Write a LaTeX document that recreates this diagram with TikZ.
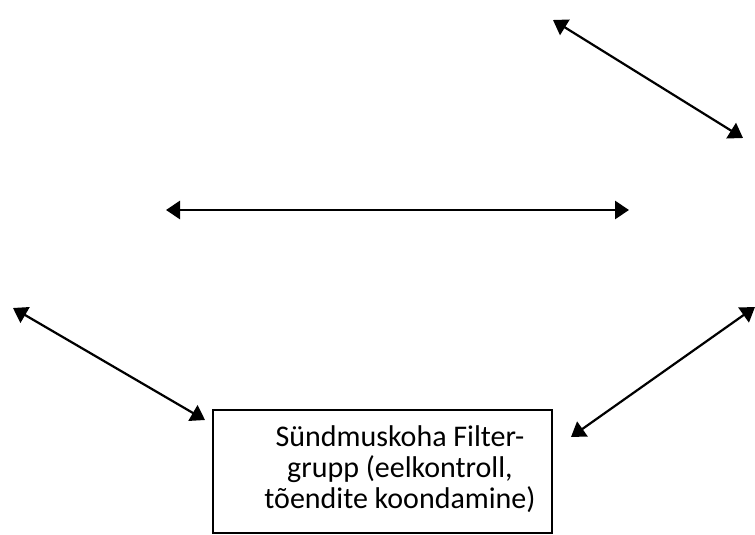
\documentclass[tikz,border=0pt]{standalone}
\usepackage{fontspec}
\setmainfont{Carlito}
\usetikzlibrary{arrows.meta,positioning}

\begin{document}
\begin{tikzpicture}[x=1pt,y=-1pt]
\tikzstyle{link}=[{Triangle[length=14pt,width=18pt]}-{Triangle[length=14pt,width=18pt]}, line width=2.2pt]
\tikzstyle{mainlink}=[link, line width=2.8pt]
\tikzstyle{box}=[draw, line width=1.8pt, minimum width=339pt, minimum height=123pt, inner sep=0pt]
\useasboundingbox (0,0) rectangle (755,535);
\node[box] (filter) at (382.5,471.5) {};
\node[align=center, inner sep=0pt, font=\fontsize{30}{31}\selectfont] (filtertext) at (400,469) {Sündmuskoha Filter-\\grupp (eelkontroll,\\tõendite koondamine)};
% free ends
\coordinate (topA) at (553,20);
\coordinate (topB) at (743,138);
\coordinate (midA) at (166,210);
\coordinate (midB) at (629,210);
\coordinate (leftA) at (13,308);
\coordinate (leftB) at (205,420);
\coordinate (rightA) at (755,307);
\coordinate (rightB) at (571,437);
\draw[mainlink] (midA) -- (midB);
\foreach \from/\to in {topA/topB,leftA/leftB,rightA/rightB}
    \draw[link] (\from) -- (\to);
\end{tikzpicture}
\end{document}
